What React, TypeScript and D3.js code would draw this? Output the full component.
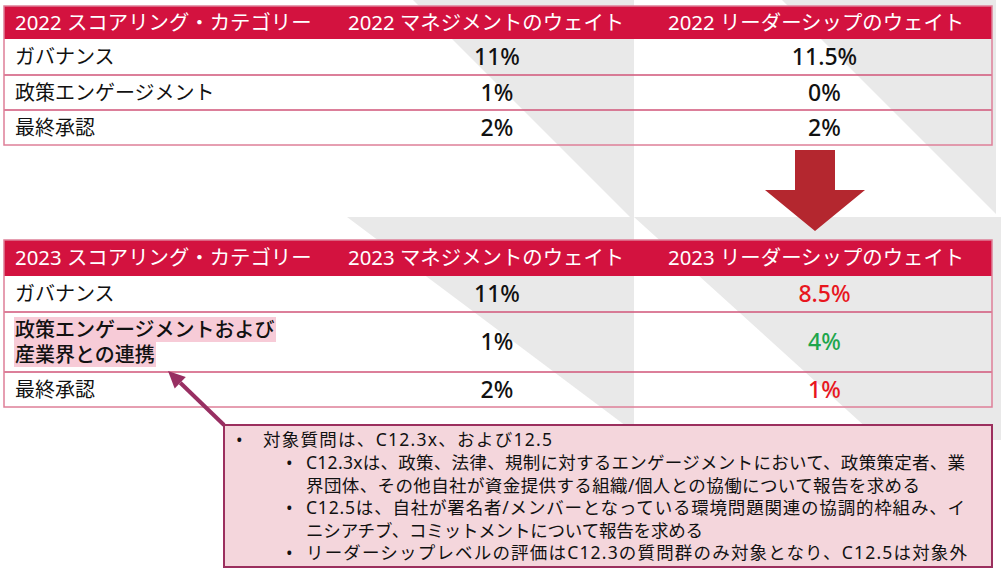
import React from "react";
import * as d3 from "d3";

// ---------- data ----------
const headers2022 = ["2022 スコアリング・カテゴリー", "2022 マネジメントのウェイト", "2022 リーダーシップのウェイト"];
const categories2022 = [["ガバナンス"], ["政策エンゲージメント"], ["最終承認"]];
const mgmt2022 = ["11%", "1%", "2%"];
const lead2022 = ["11.5%", "0%", "2%"];

const headers2023 = ["2023 スコアリング・カテゴリー", "2023 マネジメントのウェイト", "2023 リーダーシップのウェイト"];
const categories2023 = [["ガバナンス"], ["政策エンゲージメントおよび", "産業界との連携"], ["最終承認"]];
const mgmt2023 = ["11%", "1%", "2%"];
const lead2023 = ["8.5%", "4%", "1%"];
const lead2023Change = ["down", "up", "down"];
const highlighted2023 = [false, true, false];

const noteLevels = [0, 1, -1, 1, -1, 1];
const noteLines = [
  "対象質問は、C12.3x、および12.5",
  "C12.3xは、政策、法律、規制に対するエンゲージメントにおいて、政策策定者、業",
  "界団体、その他自社が資金提供する組織/個人との協働について報告を求める",
  "C12.5は、自社が署名者/メンバーとなっている環境問題関連の協調的枠組み、イ",
  "ニシアチブ、コミットメントについて報告を求める",
  "リーダーシップレベルの評価はC12.3の質問群のみ対象となり、C12.5は対象外",
];

// ---------- style ----------
const W = 1001;
const H = 575;
const RED = "#d3123f";
const LINE = "#d05479";
const GRAY = "#e9e9e9";
const FONT = "'Noto Sans', 'Noto Sans CJK JP', sans-serif";
const changeColor: Record<string, string> = { down: "#e8161e", up: "#1ea64c", same: "#111" };
// rendered widths of the note lines in the original layout (proportional font)
const noteWidths = [289, 659, 614, 659, 397, 661];

const colX = d3.scaleOrdinal<number, number>().domain([0, 1, 2]).range([4, 337, 657]);
const tableRight = 992;
const colCenter = (i: number) => (colX(i) + (i < 2 ? colX(i + 1) : tableRight)) / 2;

type TableProps = {
  top: number;
  headerH: number;
  rowHs: number[];
  headers: string[];
  cats: string[][];
  mgmt: string[];
  lead: string[];
  leadColors: string[];
  highlight: boolean[];
};

function Table({ top, headerH, rowHs, headers, cats, mgmt, lead, leadColors, highlight }: TableProps) {
  const bounds = [top, top + headerH];
  rowHs.forEach((h) => bounds.push(bounds[bounds.length - 1] + h));
  const bottom = bounds[bounds.length - 1];
  const lh = 25;
  return (
    <g>
      <rect x={colX(0)} y={top} width={tableRight - colX(0)} height={headerH} fill={RED} />
      {headers.map((h, i) => (
        <text key={h} x={colX(i) + 11} y={top + headerH / 2} dy="0.36em" fill="#fff" fontSize={20.4} fontFamily={FONT}>
          {h}
        </text>
      ))}
      {cats.map((lines, r) => {
        const y0 = bounds[r + 1];
        const y1 = bounds[r + 2];
        const cy = (y0 + y1) / 2;
        const ys = lines.map((_, k) => cy + (k - (lines.length - 1) / 2) * lh);
        return (
          <g key={r}>
            {highlight[r] &&
              lines.map((t, k) => (
                <rect key={k} x={14} y={ys[k] - 12.5} width={t.length * 20 + 2} height={25} fill="#f7cbd7" />
              ))}
            <text x={15} y={ys[0]} dy="0.36em" fontSize={20} fontFamily={FONT} fill="#111" fontWeight={highlight[r] ? 500 : 400}>
              {lines.map((t, k) => (
                <tspan key={k} x={15} y={ys[k]} dy="0.36em">
                  {t}
                </tspan>
              ))}
            </text>
            <text x={colCenter(1)} y={cy} dy="0.36em" textAnchor="middle" fontSize={23} fontFamily={FONT} fontWeight={500} fill="#111">
              {mgmt[r]}
            </text>
            <text x={colCenter(2)} y={cy} dy="0.36em" textAnchor="middle" fontSize={23} fontFamily={FONT} fontWeight={500} fill={leadColors[r]}>
              {lead[r]}
            </text>
          </g>
        );
      })}
      {bounds.slice(2, -1).map((y, i) => (
        <line key={i} x1={colX(0)} x2={tableRight} y1={y} y2={y} stroke={LINE} strokeWidth={1.5} />
      ))}
      <rect x={colX(0)} y={top} width={tableRight - colX(0)} height={bottom - top} fill="none" stroke="#de7f98" strokeWidth={1.5} />
    </g>
  );
}

export default function App() {
  const tri = (pts: [number, number][]) => d3.line()(pts.concat([pts[0]])) as string;
  const arrowCx = 815;
  const downArrow: [number, number][] = [
    [arrowCx - 20, 150], [arrowCx + 20, 150], [arrowCx + 20, 190], [arrowCx + 50, 190],
    [arrowCx, 231], [arrowCx - 50, 190], [arrowCx - 20, 190],
  ];
  // pointer from callout to highlighted label
  const p0: [number, number] = [224, 425];
  const tip: [number, number] = [168, 371];
  const ang = Math.atan2(p0[1] - tip[1], p0[0] - tip[0]);
  const headLen = 17;
  const headW = 8;
  const base: [number, number] = [tip[0] + headLen * Math.cos(ang), tip[1] + headLen * Math.sin(ang)];
  const head: [number, number][] = [
    tip,
    [base[0] + headW * Math.sin(ang), base[1] - headW * Math.cos(ang)],
    [base[0] - headW * Math.sin(ang), base[1] + headW * Math.cos(ang)],
  ];

  const noteTop = 440;
  const noteStep = 22.6;
  return (
    <svg width={W} height={H} style={{ position: "absolute", left: 0, top: 0, background: "#fff" }}>
      {/* background pattern */}
      <path d={tri([[413, 0], [634, 0], [634, 221]])} fill={GRAY} />
      <path d={tri([[782, 0], [996, 0], [996, 214]])} fill={GRAY} />
      <path d={tri([[347, 217], [634, 217], [634, 432]])} fill={GRAY} />
      <path d={tri([[634, 217], [1001, 217], [1001, 440], [880, 440]])} fill={GRAY} />

      <Table
        top={6}
        headerH={33}
        rowHs={[36, 35, 35]}
        headers={headers2022}
        cats={categories2022}
        mgmt={mgmt2022}
        lead={lead2022}
        leadColors={lead2022.map(() => "#111")}
        highlight={[false, false, false]}
      />

      <path d={tri(downArrow)} fill="#b4272f" />

      <Table
        top={240}
        headerH={36}
        rowHs={[36, 60, 35]}
        headers={headers2023}
        cats={categories2023}
        mgmt={mgmt2023}
        lead={lead2023}
        leadColors={lead2023Change.map((c) => changeColor[c])}
        highlight={highlighted2023}
      />

      {/* callout */}
      <line x1={p0[0]} y1={p0[1]} x2={base[0]} y2={base[1]} stroke="#982f62" strokeWidth={4} />
      <path d={tri(head)} fill="#982f62" />
      <rect x={224} y={425} width={768} height={142} fill="#f4d6dc" stroke="#9b2f5e" strokeWidth={2} />
      {noteLines.map((t, i) => {
        const lvl = noteLevels[i];
        const textX = lvl === 0 ? 263 : 306;
        const bulletX = lvl === 0 ? 236 : 286;
        const y = noteTop + i * noteStep;
        return (
          <g key={i}>
            {lvl >= 0 && (
              <text x={bulletX} y={y} dy="0.36em" fontSize={17.5} fontFamily={FONT} fill="#111">•</text>
            )}
            <text x={textX} y={y} dy="0.36em" fontSize={17.5} fontFamily={FONT} fill="#111" textLength={noteWidths[i]} lengthAdjust="spacing">
              {t}
            </text>
          </g>
        );
      })}
    </svg>
  );
}
